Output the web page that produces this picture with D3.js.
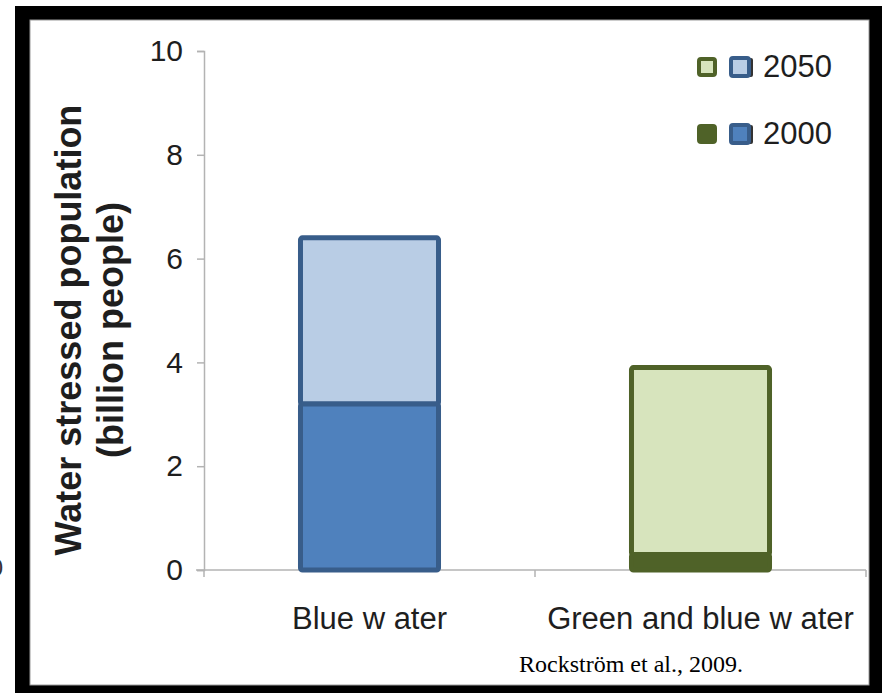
<!DOCTYPE html>
<html>
<head>
<meta charset="utf-8">
<script src="https://cdn.jsdelivr.net/npm/d3@7"></script>
<style>
  html, body { margin: 0; padding: 0; background: #fff; }
  svg { display: block; }
</style>
</head>
<body>
<svg id="chart" width="882" height="693"></svg>
<script>
// Water stressed population (billion people), 2000 vs 2050
const categories = ["Blue w ater", "Green and blue w ater"];
const pop2000 = [3.2, 0.3];
const pop2050 = [6.4, 3.9];
const yTicks = [0, 2, 4, 6, 8, 10];
const legendLabels = ["2050", "2000"];

const W = 882, H = 693;
const svg = d3.select("#chart");
const sans = "'Liberation Sans', Arial, sans-serif";

// outer black frame
svg.append("rect").attr("x", 0).attr("y", 0).attr("width", W).attr("height", H).attr("fill", "#fff");
svg.append("rect").attr("x", 15).attr("y", 6).attr("width", W - 15).attr("height", H - 6).attr("fill", "#000");
svg.append("rect").attr("x", 30).attr("y", 20).attr("width", 839).attr("height", 665)
  .attr("fill", "#fff").attr("stroke", "#9a9a9a").attr("stroke-width", 1);

// stray clipped label at the far left edge
svg.append("text").attr("x", 3).attr("y", 576).attr("text-anchor", "end")
  .attr("font-family", sans).attr("font-size", 24).attr("fill", "#333").text("0");

const x = d3.scaleBand().domain(categories).range([204, 866])
  .paddingInner(0.583).paddingOuter(0.2915);
const y = d3.scaleLinear().domain([0, 10]).range([570, 51]);

const axisColor = "#b3b3b3";

// y axis
const yAxis = svg.append("g").attr("transform", "translate(204,0)")
  .call(d3.axisLeft(y).tickValues(yTicks).tickSize(7).tickPadding(14).tickFormat(d3.format("d")));
yAxis.select(".domain").attr("stroke", axisColor).attr("stroke-width", 1.5);
yAxis.selectAll(".tick line").attr("stroke", axisColor).attr("stroke-width", 1.5);
yAxis.selectAll(".tick text").attr("font-family", sans).attr("font-size", 30).attr("fill", "#1e1e1e");

// x axis
const xAxis = svg.append("g").attr("transform", "translate(0,570)")
  .call(d3.axisBottom(x).tickSize(0).tickPadding(37));
xAxis.select(".domain").attr("stroke", axisColor).attr("stroke-width", 1.5)
  .attr("d", "M196,0H866");
xAxis.selectAll(".tick text").attr("font-family", sans).attr("font-size", 31).attr("fill", "#1e1e1e");
// category separators
const step = x.step();
[204, 204 + step, 204 + 2 * step].forEach(px => {
  svg.append("line").attr("x1", px).attr("x2", px).attr("y1", 570).attr("y2", 577)
    .attr("stroke", axisColor).attr("stroke-width", 1.5);
});

// bar styling per category
const styles = [
  { edge: "#385d8a", light: "#b9cde5", dark: "#4f81bd" },
  { edge: "#4f6228", light: "#d7e4bd", dark: "#4f6228" }
];

const bars = svg.append("g");
categories.forEach((c, i) => {
  const s = styles[i];
  // 2050 portion stacked above the 2000 portion
  bars.append("rect")
    .attr("x", x(c)).attr("width", x.bandwidth())
    .attr("y", y(pop2050[i])).attr("height", y(pop2000[i]) - y(pop2050[i]))
    .attr("rx", 2).attr("fill", s.light).attr("stroke", s.edge).attr("stroke-width", 5);
  bars.append("rect")
    .attr("x", x(c)).attr("width", x.bandwidth())
    .attr("y", y(pop2000[i])).attr("height", y(0) - y(pop2000[i]))
    .attr("rx", 2).attr("fill", s.dark).attr("stroke", s.edge).attr("stroke-width", 5);
});

// legend
const legend = svg.append("g");
legendLabels.forEach((lab, i) => {
  const cy = 67 + i * 67;
  const isNew = lab === "2050";
  // green swatch
  legend.append("rect").attr("x", 699).attr("y", cy - 8).attr("width", 16).attr("height", 16)
    .attr("rx", 2).attr("fill", isNew ? styles[1].light : styles[1].dark)
    .attr("stroke", styles[1].edge).attr("stroke-width", 4);
  // blue swatch with shadow
  legend.append("rect").attr("x", 733).attr("y", cy - 9).attr("width", 20).attr("height", 19)
    .attr("rx", 2).attr("fill", "#333");
  legend.append("rect").attr("x", 731).attr("y", cy - 9).attr("width", 18).attr("height", 18)
    .attr("rx", 2).attr("fill", isNew ? styles[0].light : styles[0].dark)
    .attr("stroke", styles[0].edge).attr("stroke-width", 4);
  legend.append("text").attr("x", 763).attr("y", cy + 10)
    .attr("font-family", sans).attr("font-size", 31).attr("fill", "#1e1e1e").text(lab);
});

// y axis title
const title = svg.append("g").attr("transform", "translate(0,330)");
title.append("text").attr("transform", "translate(81,0) rotate(-90)")
  .attr("text-anchor", "middle").attr("font-family", sans).attr("font-weight", "bold")
  .attr("font-size", 36).attr("fill", "#1e1e1e").text("Water stressed population");
title.append("text").attr("transform", "translate(123,0) rotate(-90)")
  .attr("text-anchor", "middle").attr("font-family", sans).attr("font-weight", "bold")
  .attr("font-size", 36).attr("fill", "#1e1e1e").text("(billion people)");

// source note
svg.append("text").attr("x", 519).attr("y", 672)
  .attr("font-family", "'Liberation Serif', 'Times New Roman', serif")
  .attr("font-size", 24).attr("fill", "#000").text("Rockström et al., 2009.");
</script>
</body>
</html>
